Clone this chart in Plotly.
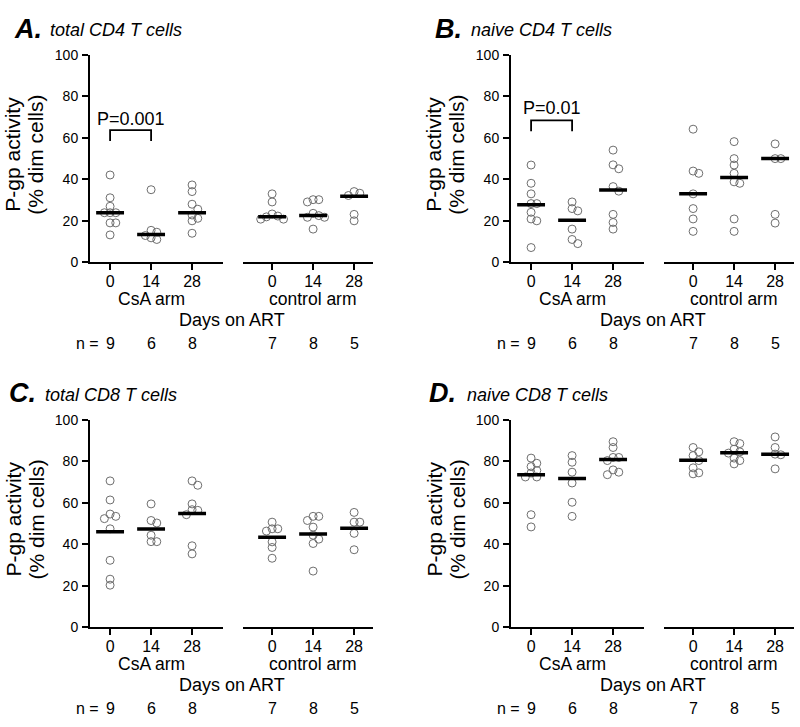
import numpy as np
import plotly.graph_objects as go

# ---------------- data ----------------
days = ["0", "14", "28"]
arm_labels = ["CsA arm", "control arm"]
panel_letters = ["A.", "B.", "C.", "D."]
panel_titles = ["total CD4 T cells", "naive CD4 T cells", "total CD8 T cells", "naive CD8 T cells"]
y_tick_vals = [0, 20, 40, 60, 80, 100]
x_title = "Days on ART"
y_title_lines = ["P-gp activity", "(% dim cells)"]

cd4_total_csa = [[42.1, 31.1, 27.0, 23.9, 23.9, 23.9, 19.0, 19.0, 13.2],
                 [35.0, 15.4, 14.5, 12.9, 11.8, 11.0],
                 [37.3, 34.1, 28.0, 25.6, 22.8, 21.2, 20.0, 14.0]]
cd4_total_ctrl = [[33.0, 29.1, 23.3, 22.3, 21.9, 20.8, 20.8],
                  [30.2, 30.2, 29.1, 23.6, 22.5, 21.7, 21.7, 16.0],
                  [34.1, 33.3, 32.2, 23.1, 20.0]]
cd4_naive_csa = [[46.9, 38.1, 33.0, 28.3, 28.3, 24.1, 20.9, 20.0, 7.1],
                 [29.1, 25.9, 24.8, 16.0, 11.0, 9.0],
                 [54.1, 47.0, 45.1, 36.5, 34.3, 23.1, 19.2, 16.0]]
cd4_naive_ctrl = [[64.2, 44.0, 42.9, 33.0, 25.9, 20.9, 14.9],
                  [58.2, 50.0, 46.9, 42.9, 38.8, 38.1, 20.9, 14.9],
                  [57.1, 50.0, 50.0, 23.1, 18.9]]
cd8_total_csa = [[70.5, 61.3, 54.5, 53.4, 52.3, 47.4, 32.2, 23.1, 20.2],
                 [59.4, 51.4, 50.2, 44.3, 41.2, 41.2],
                 [70.5, 68.4, 59.4, 56.6, 56.3, 54.2, 39.2, 35.3]]
cd8_total_ctrl = [[50.6, 47.4, 47.4, 46.3, 41.1, 38.4, 33.2],
                  [53.4, 53.4, 51.4, 48.2, 44.3, 42.4, 40.3, 27.0],
                  [55.3, 50.6, 50.6, 45.2, 37.3]]
cd8_naive_csa = [[81.5, 79.0, 77.4, 75.5, 74.3, 72.4, 72.4, 54.2, 48.3],
                 [82.7, 79.5, 74.7, 69.5, 60.2, 53.4],
                 [89.4, 86.6, 81.8, 81.8, 80.3, 75.8, 74.7, 73.5]]
cd8_naive_ctrl = [[86.6, 84.5, 82.7, 80.3, 76.8, 74.4, 73.9],
                  [89.4, 88.5, 85.8, 84.5, 83.9, 81.5, 80.3, 78.7],
                  [91.7, 86.6, 83.4, 83.1, 76.3]]

# centre lines as drawn in the reference
cd4_total_lines = [[23.9, 13.4, 23.9], [21.9, 22.5, 31.9]]
cd4_naive_lines = [[27.8, 20.3, 34.9], [33.0, 40.9, 50.0]]
cd8_total_lines = [[46.0, 47.3, 54.8], [43.3, 44.9, 47.6]]
cd8_naive_lines = [[73.5, 71.7, 80.8], [80.4, 84.1, 83.4]]

# significance brackets: panel index, text, bracket level, leg end, text level
p_brackets = [(0, "P=0.001", 63.7, 58.5, 69.0), (1, "P=0.01", 68.4, 63.2, 74.3)]

panel_data = [
    (cd4_total_csa, cd4_total_ctrl, cd4_total_lines),
    (cd4_naive_csa, cd4_naive_ctrl, cd4_naive_lines),
    (cd8_total_csa, cd8_total_ctrl, cd8_total_lines),
    (cd8_naive_csa, cd8_naive_ctrl, cd8_naive_lines),
]

# ---------------- layout geometry ----------------
W, H = 800, 727


def fx(x):
    return x / W


def fy(y):
    return 1 - y / H


panel_origin = [(90, 48), (511, 48), (90, 421), (511, 421)]
letter_dx = [-78, -78, -83, -84]
title_dx = [-42, -42, -47, -46]
PLOT_H = 212
UNIT = 41.0
csa_range = [-0.49, 2.76]
ctrl_range = [-0.71, 2.46]
CTRL_GAP = 153

FONT = "Liberation Sans, Arial, Helvetica, sans-serif"


def swarm(vals, px_per_unit_y, lane_px=5.7, min_d=5.6):
    vals = np.asarray(vals, dtype=float)
    order = np.argsort(-vals, kind="stable")
    placed = []
    offs = np.zeros(len(vals))
    for i in order:
        ypx = vals[i] * px_per_unit_y
        for lane in [0, 1, -1, 2, -2, 3, -3]:
            if all(not (l == lane and abs(yy - ypx) < min_d) for l, yy in placed):
                break
        placed.append((lane, ypx))
        offs[i] = lane * lane_px / UNIT
    return offs


fig = go.Figure()
annotations = []
shapes = []
layout_axes = {}


def xn(k):
    return "x" if k == 1 else f"x{k}"


for p, (x0, top) in enumerate(panel_origin):
    csa, ctrl, lines = panel_data[p]
    xa_csa = 2 * p + 1
    xa_ctrl = 2 * p + 2
    ya = p + 1
    yn = "y" if ya == 1 else f"y{ya}"
    ydom = [fy(top + PLOT_H), fy(top)]
    ppu = PLOT_H / 100.0

    common_x = dict(showline=True, linewidth=2, linecolor="black", ticks="outside",
                    ticklen=6, tickwidth=2, tickcolor="black", showgrid=False,
                    zeroline=False, tickvals=[0, 1, 2], ticktext=days,
                    ticklabelstandoff=-2,
                    tickfont=dict(family=FONT, size=16, color="black"),
                    anchor=yn, fixedrange=True)
    csa_w = (csa_range[1] - csa_range[0]) * UNIT
    ctrl_w = (ctrl_range[1] - ctrl_range[0]) * UNIT
    layout_axes["xaxis" if xa_csa == 1 else f"xaxis{xa_csa}"] = dict(
        common_x, domain=[fx(x0), fx(x0 + csa_w)], range=csa_range)
    layout_axes[f"xaxis{xa_ctrl}"] = dict(
        common_x, domain=[fx(x0 + CTRL_GAP), fx(x0 + CTRL_GAP + ctrl_w)], range=ctrl_range)
    layout_axes["yaxis" if ya == 1 else f"yaxis{ya}"] = dict(
        domain=ydom, range=[0, 100], anchor=xn(xa_csa), showline=True, linewidth=2,
        linecolor="black", ticks="outside", ticklen=6, tickwidth=2, tickcolor="black",
        tickvals=y_tick_vals, showgrid=False, zeroline=False, ticklabelstandoff=1,
        tickfont=dict(family=FONT, size=14, color="black"), fixedrange=True)

    for arm_i, (groups, xk) in enumerate([(csa, xa_csa), (ctrl, xa_ctrl)]):
        for g, vals in enumerate(groups):
            offs = swarm(vals, ppu)
            fig.add_trace(go.Scatter(
                x=g + offs, y=vals, mode="markers", xaxis=xn(xk), yaxis=yn,
                marker=dict(symbol="circle-open", size=8, color="#6e6e6e", line=dict(width=1)),
                showlegend=False, hoverinfo="y", cliponaxis=False))
            c = lines[arm_i][g]
            fig.add_trace(go.Scatter(
                x=[g - 0.34, g + 0.34], y=[c, c], mode="lines", xaxis=xn(xk), yaxis=yn,
                line=dict(color="black", width=3.5), showlegend=False, hoverinfo="skip",
                cliponaxis=False))
            # n labels
            annotations.append(dict(
                x=g, y=fy(top + 295), xref=xn(xk), yref="paper", text=str(len(vals)),
                showarrow=False, xanchor="center", yanchor="middle",
                font=dict(family=FONT, size=16, color="black")))
        annotations.append(dict(
            x=1, y=fy(top + 250), xref=xn(xk), yref="paper", text=arm_labels[arm_i],
            showarrow=False, xanchor="center", yanchor="middle",
            font=dict(family=FONT, size=17.5, color="black")))

    annotations.append(dict(x=fx(x0 - 3), y=fy(top + 295), xref="paper", yref="paper",
                            text="n =", showarrow=False, xanchor="center", yanchor="middle",
                            font=dict(family=FONT, size=16, color="black")))
    annotations.append(dict(x=fx(x0 + 142), y=fy(top + 271), xref="paper", yref="paper",
                            text=x_title, showarrow=False, xanchor="center", yanchor="middle",
                            font=dict(family=FONT, size=18, color="black")))
    for li, (dxl, txt) in enumerate(zip([-77, -54], y_title_lines)):
        annotations.append(dict(x=fx(x0 + dxl), y=fy(top + 102), xref="paper", yref="paper",
                                text=txt, textangle=-90, showarrow=False,
                                xanchor="center", yanchor="middle",
                                font=dict(family=FONT, size=21, color="black")))
    annotations.append(dict(x=fx(x0 + letter_dx[p]), y=fy(top - 27), xref="paper", yref="paper",
                            text="<b><i>" + panel_letters[p] + "</i></b>", showarrow=False,
                            xanchor="left", yanchor="middle",
                            font=dict(family=FONT, size=27, color="black")))
    annotations.append(dict(x=fx(x0 + title_dx[p]), y=fy(top - 25), xref="paper", yref="paper",
                            text="<i>" + panel_titles[p] + "</i>", showarrow=False,
                            xanchor="left", yanchor="middle",
                            font=dict(family=FONT, size=18, color="black")))

    for (bp, txt, lvl, leg, tl) in p_brackets:
        if bp != p:
            continue
        shapes.append(dict(type="path", xref=xn(xa_csa), yref=yn,
                           path=f"M 0 {leg} L 0 {lvl} L 1 {lvl} L 1 {leg}",
                           line=dict(color="black", width=1.8)))
        annotations.append(dict(x=0.5, y=tl, xref=xn(xa_csa), yref=yn, text=txt,
                                showarrow=False, xanchor="center", yanchor="middle",
                                font=dict(family=FONT, size=18, color="black")))

fig.update_layout(
    width=W, height=H, margin=dict(l=0, r=0, t=0, b=0),
    paper_bgcolor="white", plot_bgcolor="white",
    annotations=annotations, shapes=shapes, showlegend=False,
    **layout_axes)

fig.write_html("out.html", config={"displayModeBar": False},
               post_script="document.body.style.margin='0px';")
